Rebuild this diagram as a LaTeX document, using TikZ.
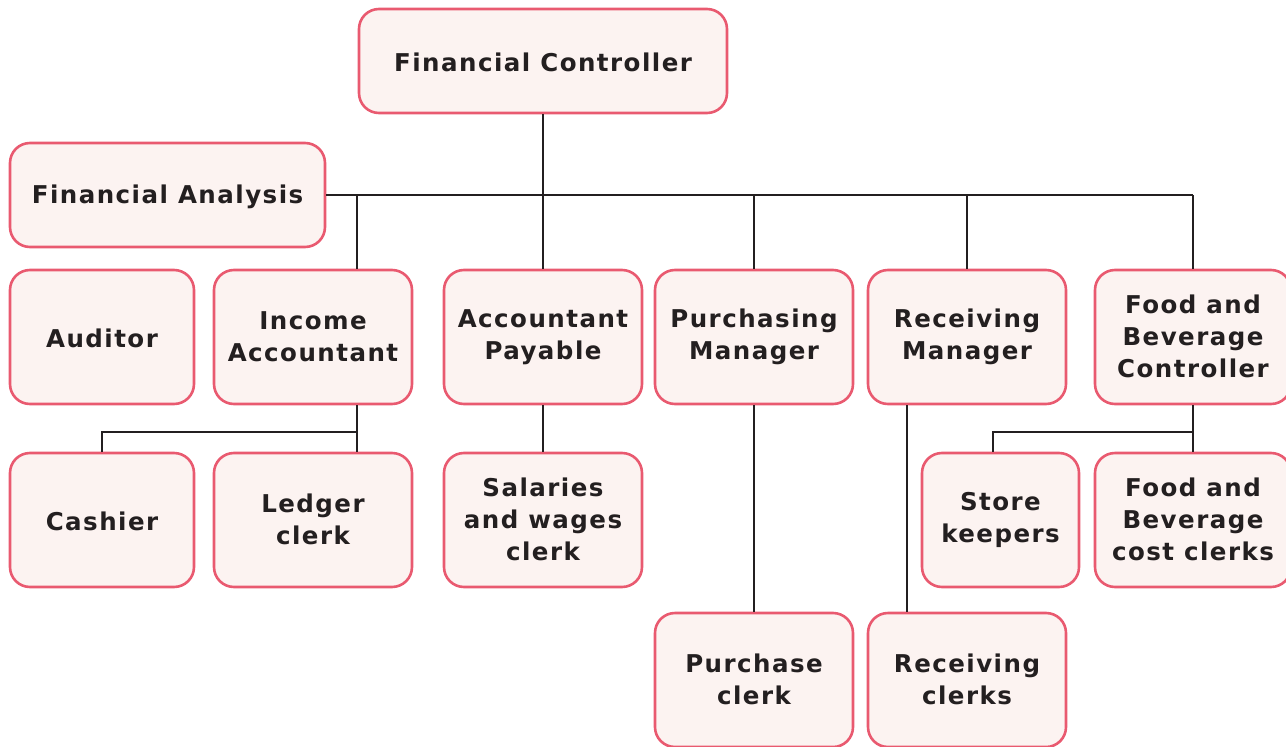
\documentclass[tikz,border=0pt]{standalone}
\usepackage{fontspec}
\setmainfont{DejaVu Sans}
\newfontfamily\boxfont{DejaVu Sans}[LetterSpace=6.0]
\begin{document}
\begin{tikzpicture}[x=1pt,y=-1pt,
  unit/.style={draw=boxline, fill=boxfill, line width=2.6pt, rounded corners=20pt,
    inner sep=0pt, align=center, text=ink,
    execute at begin node={\rule{0pt}{22pt}},
    execute at end node={\rule[-1pt]{0pt}{1pt}},
    font=\boxfont\fontsize{24.5}{32}\selectfont\bfseries},
  link/.style={draw=ink, line width=2.3pt}]
\definecolor{boxline}{HTML}{E95A70}
\definecolor{boxfill}{HTML}{FCF3F1}
\definecolor{ink}{HTML}{231F20}
\useasboundingbox (0,0) rectangle (1286,747);

% top level
\node[unit, minimum width=368pt, minimum height=104pt] (fc) at (543,61) {Financial Controller};
\node[unit, minimum width=315pt, minimum height=104pt] (fa) at (167.5,195) {Financial Analysis};

% second row
\node[unit, minimum width=184pt, minimum height=134pt] (aud) at (102,337) {Auditor};
\node[unit, minimum width=198pt, minimum height=134pt] (ia)  at (313,337) {Income\\Accountant};
\node[unit, minimum width=198pt, minimum height=134pt] (ap)  at (543,337) {Accountant\\Payable};
\node[unit, minimum width=198pt, minimum height=134pt] (pm)  at (754,337) {Purchasing\\Manager};
\node[unit, minimum width=198pt, minimum height=134pt] (rm)  at (967,337) {Receiving\\Manager};
\node[unit, minimum width=196pt, minimum height=134pt] (fbc) at (1193,337) {Food and\\Beverage\\Controller};

% third row
\node[unit, minimum width=184pt, minimum height=134pt] (cash) at (102,520) {Cashier};
\node[unit, minimum width=198pt, minimum height=134pt] (led)  at (313,520) {Ledger\\clerk};
\node[unit, minimum width=198pt, minimum height=134pt] (sal)  at (543,520) {Salaries\\and wages\\clerk};
\node[unit, minimum width=157pt, minimum height=134pt] (sk)   at (1000.5,520) {Store\\keepers};
\node[unit, minimum width=196pt, minimum height=134pt] (fbcc) at (1193,520) {Food and\\Beverage\\cost clerks};

% fourth row
\node[unit, minimum width=198pt, minimum height=134pt] (pc) at (754,680) {Purchase\\clerk};
\node[unit, minimum width=198pt, minimum height=134pt] (rc) at (967,680) {Receiving\\clerks};

% main bus
\coordinate (bus) at (fa.east);
\draw[link] (fc.south) -- (fc.south |- bus);
\draw[link] (fa.east) -- (fa.east -| fbc.north);
\draw[link] ([xshift=44pt]ia.north) -- ([xshift=44pt]ia.north |- bus);
\draw[link] (ap.north) -- (ap.north |- bus);
\draw[link] (pm.north) -- (pm.north |- bus);
\draw[link] (rm.north) -- (rm.north |- bus);
\draw[link] (fbc.north) -- (fbc.north |- bus);

% income accountant branch
\coordinate (iaj) at ([xshift=44pt,yshift=-27pt]ia.south);
\draw[link] ([xshift=44pt]ia.south) -- ([xshift=44pt]led.north);
\draw[link] (iaj) -| (cash.north);

% payable branch
\draw[link] (ap.south) -- (sal.north);

% purchasing and receiving
\draw[link] (pm.south) -- (pc.north);
\draw[link] ([xshift=-60pt]rm.south) -- ([xshift=-60pt]rc.north);

% food and beverage branch
\coordinate (fbj) at ([yshift=-27pt]fbc.south);
\draw[link] (fbc.south) -- (fbcc.north);
\draw[link] (fbj) -| ([xshift=-7.5pt]sk.north);
\end{tikzpicture}
\end{document}
